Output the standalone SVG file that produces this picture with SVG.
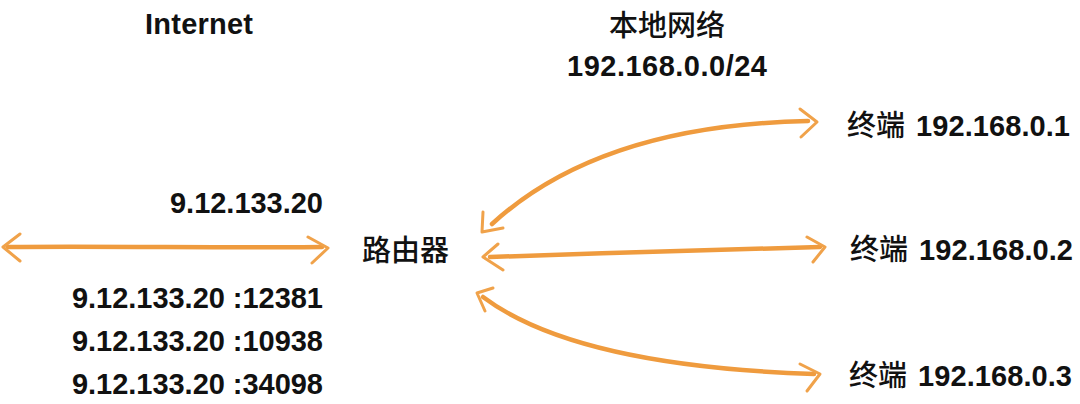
<svg xmlns="http://www.w3.org/2000/svg" width="1080" height="404" viewBox="0 0 1080 404">
<defs>
<style>
.bg{fill:#ffffff}
.lat{font-family:"Liberation Sans",Arial,sans-serif;font-weight:bold;font-size:29px;fill:#111111}
.cjk{font-family:"Noto Sans CJK SC","Noto Sans",sans-serif;font-weight:500;font-size:29px;fill:#111111}
.line{fill:none;stroke:#EF9B3E;stroke-width:4.5;stroke-linecap:round;stroke-linejoin:round}
.head{fill:none;stroke:#F0A24A;stroke-width:3;stroke-linecap:round;stroke-linejoin:round}
</style>
</defs>
<rect class="bg" x="0" y="0" width="1080" height="404"/>

<g id="connectors">
  <g id="wan-link">
    <path class="line" d="M8,247 C100,246 230,248 322,247"/>
    <path class="head" d="M20,234 L3,247 L20,261"/>
    <path class="head" d="M308,237 L328,248 L312,263"/>
  </g>
  <g id="link-1">
    <path class="line" d="M492,224 Q600,125 808,121"/>
    <path class="head" d="M483,212 L482,232 L503,228"/>
    <path class="head" d="M800,109 L817,122 L801,137"/>
  </g>
  <g id="link-2">
    <path class="line" d="M490,257 C600,253 720,250 820,247"/>
    <path class="head" d="M498,244 L483,257 L503,270"/>
    <path class="head" d="M807,237 L825,247 L813,262"/>
  </g>
  <g id="link-3">
    <path class="line" d="M483,297 Q575,366 814,374"/>
    <path class="head" d="M493,288 L477,293 L485,311"/>
    <path class="head" d="M800,364 L820,374 L807,391"/>
  </g>
</g>

<g id="internet">
  <text class="lat" x="145" y="34" textLength="108" lengthAdjust="spacing">Internet</text>
</g>

<g id="local-network">
  <text class="cjk" x="667" y="36" text-anchor="middle">本地网络</text>
  <text class="lat" x="567" y="76" textLength="200" lengthAdjust="spacing">192.168.0.0/24</text>
</g>

<g id="wan-addresses">
  <text class="lat" x="170" y="213" textLength="153" lengthAdjust="spacing">9.12.133.20</text>
  <text class="lat" x="72" y="308" textLength="251" lengthAdjust="spacing">9.12.133.20 :12381</text>
  <text class="lat" x="72" y="351" textLength="251" lengthAdjust="spacing">9.12.133.20 :10938</text>
  <text class="lat" x="72" y="394" textLength="251" lengthAdjust="spacing">9.12.133.20 :34098</text>
</g>

<g id="router">
  <text class="cjk" x="362" y="261">路由器</text>
</g>

<g id="terminal-1">
  <text class="cjk" x="847" y="136">终端</text>
  <text class="lat" x="916" y="136" textLength="154" lengthAdjust="spacing">192.168.0.1</text>
</g>

<g id="terminal-2">
  <text class="cjk" x="850" y="260">终端</text>
  <text class="lat" x="919" y="260" textLength="154" lengthAdjust="spacing">192.168.0.2</text>
</g>

<g id="terminal-3">
  <text class="cjk" x="849" y="386">终端</text>
  <text class="lat" x="918" y="386" textLength="154" lengthAdjust="spacing">192.168.0.3</text>
</g>
</svg>
